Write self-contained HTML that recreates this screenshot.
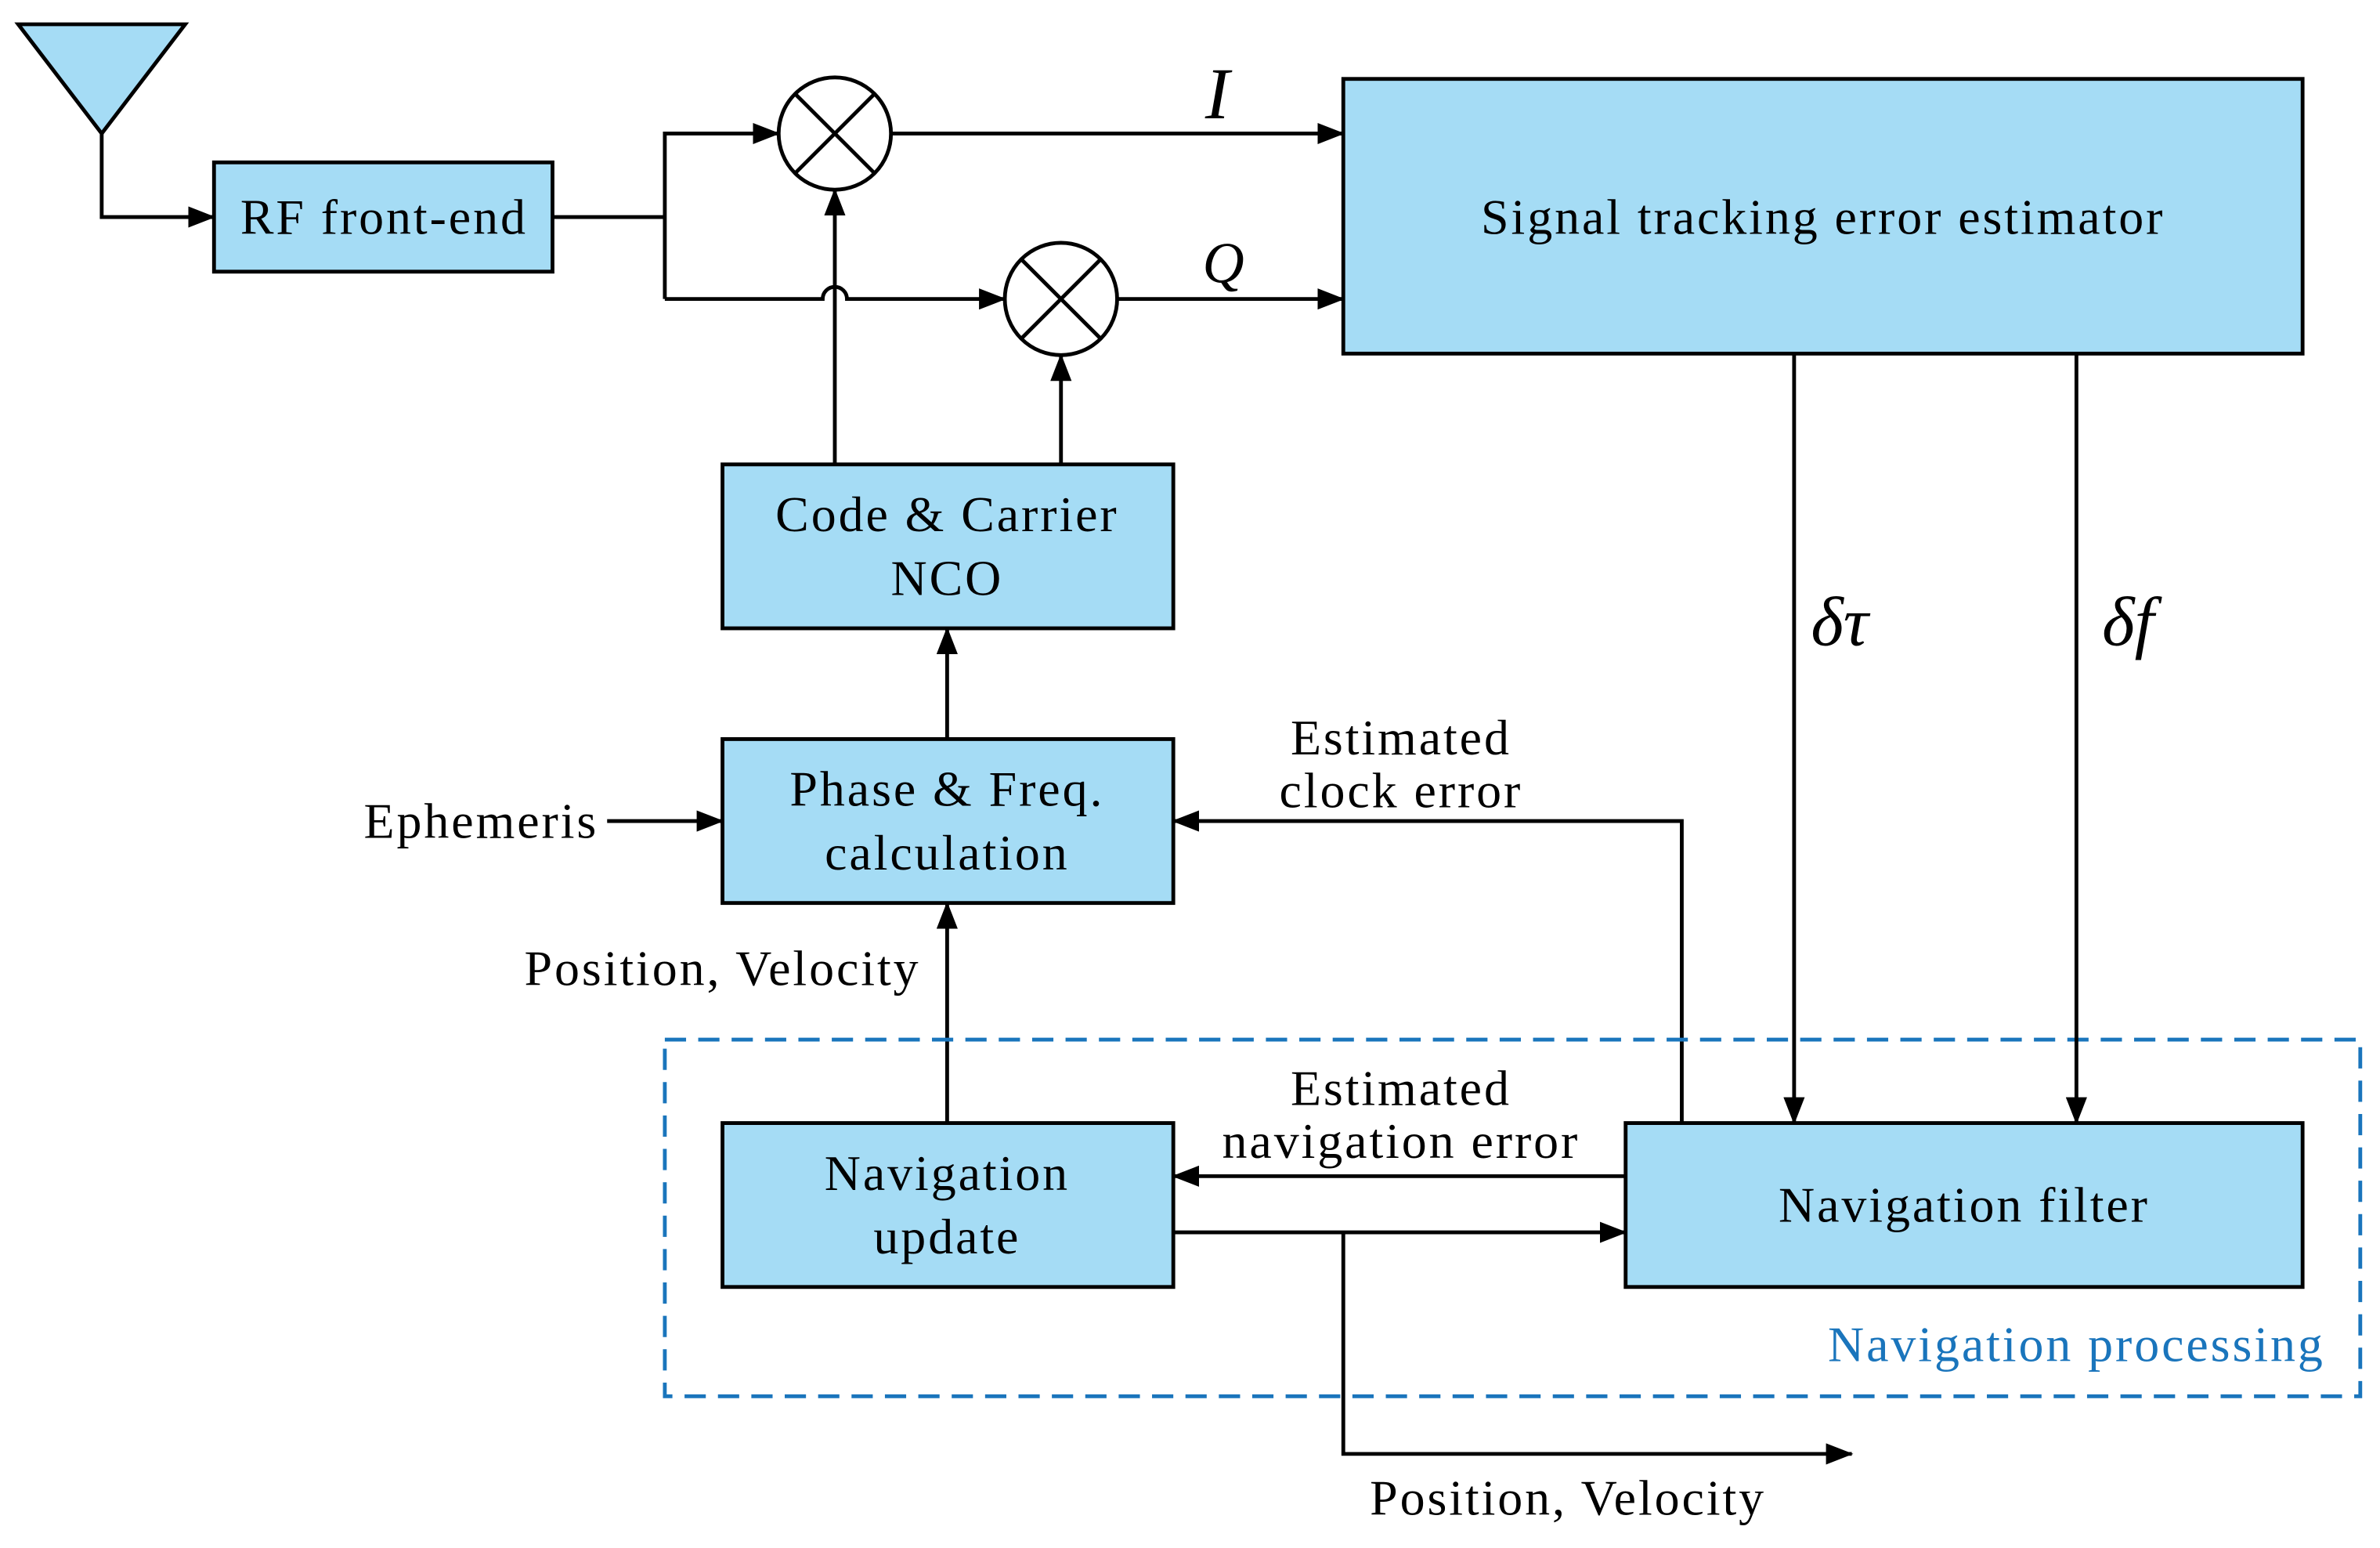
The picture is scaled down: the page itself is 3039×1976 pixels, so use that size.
<!DOCTYPE html>
<html><head><meta charset="utf-8"><style>
html,body{margin:0;padding:0;background:#fff;}
svg{display:block;}
text{font-family:"Liberation Serif",serif;font-size:33px;letter-spacing:1.5px;fill:#000;}
</style></head><body>
<svg width="3039" height="1976" viewBox="0 0 1568 1020" preserveAspectRatio="none" xmlns="http://www.w3.org/2000/svg">
<defs>
<marker id="b" markerWidth="18" markerHeight="14" refX="17" refY="7" orient="auto" markerUnits="userSpaceOnUse">
<path d="M0,0 L18,7 L0,14 z" fill="#000"/>
</marker>
</defs>
<g stroke="#000" stroke-width="2.5" fill="none">
<polygon points="12,16 122,16 67,88" fill="#a5dcf5"/>
<polyline points="67,88 67,143 141,143" marker-end="url(#b)"/>
<rect x="141" y="107" width="223" height="72" fill="#a5dcf5"/>
<polyline points="364,143 438,143"/>
<polyline points="438,197 438,88 513,88" marker-end="url(#b)"/>
<path d="M438,197 L542,197 A8,8 0 0 1 558,197 L662,197" marker-end="url(#b)"/>
<circle cx="550" cy="88" r="37" fill="#fff"/>
<line x1="524" y1="62" x2="576" y2="114"/><line x1="576" y1="62" x2="524" y2="114"/>
<circle cx="699" cy="197" r="37" fill="#fff"/>
<line x1="673" y1="171" x2="725" y2="223"/><line x1="725" y1="171" x2="673" y2="223"/>
<line x1="587" y1="88" x2="885" y2="88" marker-end="url(#b)"/>
<line x1="736" y1="197" x2="885" y2="197" marker-end="url(#b)"/>
<rect x="885" y="52" width="632" height="181" fill="#a5dcf5"/>
<rect x="476" y="306" width="297" height="108" fill="#a5dcf5"/>
<line x1="550" y1="306" x2="550" y2="125" marker-end="url(#b)"/>
<line x1="699" y1="306" x2="699" y2="234" marker-end="url(#b)"/>
<rect x="476" y="487" width="297" height="108" fill="#a5dcf5"/>
<line x1="624" y1="487" x2="624" y2="414" marker-end="url(#b)"/>
<line x1="400" y1="541" x2="476" y2="541" marker-end="url(#b)"/>
<polyline points="1108,740 1108,541 773,541" marker-end="url(#b)"/>
<line x1="624" y1="740" x2="624" y2="595" marker-end="url(#b)"/>
<rect x="438" y="685" width="1117" height="235" stroke="#1a75bc" stroke-dasharray="14,8"/>
<rect x="476" y="740" width="297" height="108" fill="#a5dcf5"/>
<rect x="1071" y="740" width="446" height="108" fill="#a5dcf5"/>
<line x1="1071" y1="775" x2="773" y2="775" marker-end="url(#b)"/>
<line x1="773" y1="812" x2="1071" y2="812" marker-end="url(#b)"/>
<polyline points="885,812 885,958 1220,958" marker-end="url(#b)"/>
<line x1="1182" y1="233" x2="1182" y2="740" marker-end="url(#b)"/>
<line x1="1368" y1="233" x2="1368" y2="740" marker-end="url(#b)"/>
</g>
<g text-anchor="middle">
<text x="253" y="154">RF front-end</text>
<text x="1201" y="154">Signal tracking error estimator</text>
<text x="624" y="350">Code &amp; Carrier</text>
<text x="624" y="392">NCO</text>
<text x="624" y="531">Phase &amp; Freq.</text>
<text x="624" y="573">calculation</text>
<text x="317" y="552">Ephemeris</text>
<text x="923" y="497">Estimated</text>
<text x="923" y="532">clock error</text>
<text x="476" y="649">Position, Velocity</text>
<text x="923" y="728">Estimated</text>
<text x="923" y="763">navigation error</text>
<text x="624" y="784">Navigation</text>
<text x="624" y="826">update</text>
<text x="1294" y="805">Navigation filter</text>
<text x="1368" y="897" style="fill:#1a75bc">Navigation processing</text>
<text x="1033" y="998">Position, Velocity</text>
<text x="802" y="78" style="font-style:italic;font-size:48px;letter-spacing:0">I</text>
<text x="806" y="186" style="font-style:italic;font-size:38px;letter-spacing:0">Q</text>
<text x="1212" y="425" style="font-style:italic;font-size:46px;letter-spacing:0">δτ</text>
<text x="1402" y="425" style="font-style:italic;font-size:46px;letter-spacing:0">δf</text>
</g>
</svg>
</body></html>
